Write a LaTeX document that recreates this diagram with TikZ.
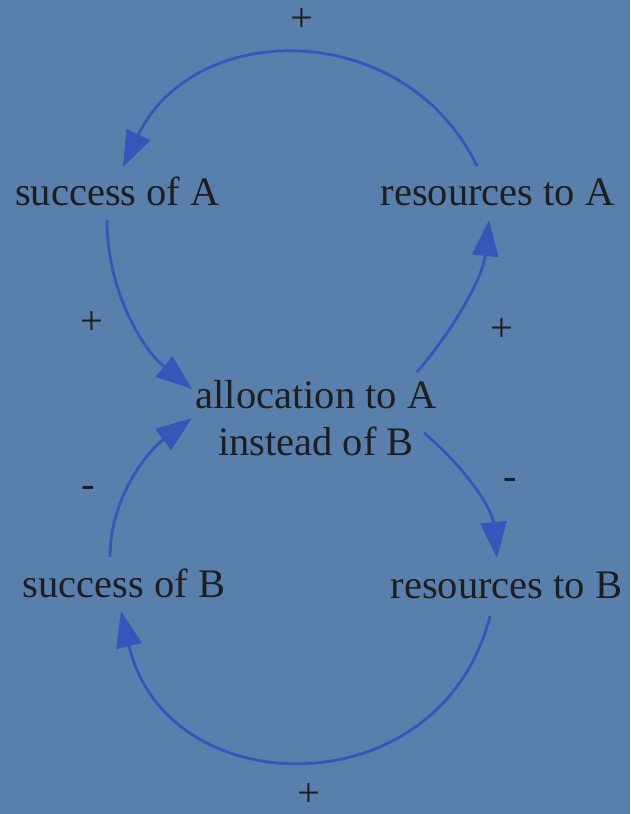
\documentclass[tikz,border=0pt]{standalone}
\usepackage{fontspec}
\setmainfont{Liberation Serif}
\usetikzlibrary{arrows.meta}
\definecolor{bgblue}{RGB}{89,128,173}
\definecolor{arrowblue}{RGB}{56,86,186}
\definecolor{txt}{RGB}{30,30,30}
\begin{document}
\begin{tikzpicture}[x=1pt,y=-1pt,
  lbl/.style={inner sep=0pt,outer sep=0pt,anchor=base,text=txt,font=\fontsize{40.5}{47}\selectfont},
  sgn/.style={inner sep=0pt,outer sep=0pt,text=txt,font=\fontsize{40.5}{47}\selectfont},
  link/.style={draw=arrowblue,line width=2.8pt,-{Triangle[length=36pt,width=26pt]}}]
\fill[bgblue] (0,0) rectangle (630,814);
\useasboundingbox (0,0) rectangle (630,814);
% nodes
\node[lbl] (sA) at (117.5,205) {success of A};
\node[lbl] (rA) at (497.5,205) {resources to A};
\node[lbl,align=center] (al) at (316,455) {allocation to A\\instead of B};
\node[lbl] (sB) at (124,597) {success of B};
\node[lbl] (rB) at (506.5,598) {resources to B};
% signs
\node[sgn] (p1) at (302,20) {+};
\node[sgn] (p2) at (92,323) {+};
\node[sgn] (p3) at (502,330) {+};
\node[sgn,anchor=base] (m1) at (88,497) {-};
\node[sgn,anchor=base] (m2) at (510,489) {-};
\node[sgn] (p4) at (309,795) {+};
% connectors
\draw[link] ([shift={(-20.5,-39)}]rA.base) .. controls +(-72,-148.5) and +(71,-148.6) .. ([shift={(5.5,-38)}]sA.base);
\draw[link] ([shift={(-10.5,15)}]sA.base) .. controls +(0,70) and +(-50,-40) .. ([shift={(-124,-66)}]al.base);
\draw[link] ([shift={(101,-83)}]al.base) .. controls +(37,-43) and +(-6,57) .. ([shift={(-8.5,15)}]rA.base);
\draw[link] ([shift={(108,-22)}]al.base) .. controls +(39,32) and +(-5,-50) .. ([shift={(-9.5,-40)}]rB.base);
\draw[link] ([shift={(-16.5,18)}]rB.base) .. controls +(-49,194) and +(45,195) .. ([shift={(-3,14)}]sB.base);
\draw[link] ([shift={(-14,-40)}]sB.base) .. controls +(0,-60) and +(-44,33) .. ([shift={(-124,-37)}]al.base);
\end{tikzpicture}
\end{document}
